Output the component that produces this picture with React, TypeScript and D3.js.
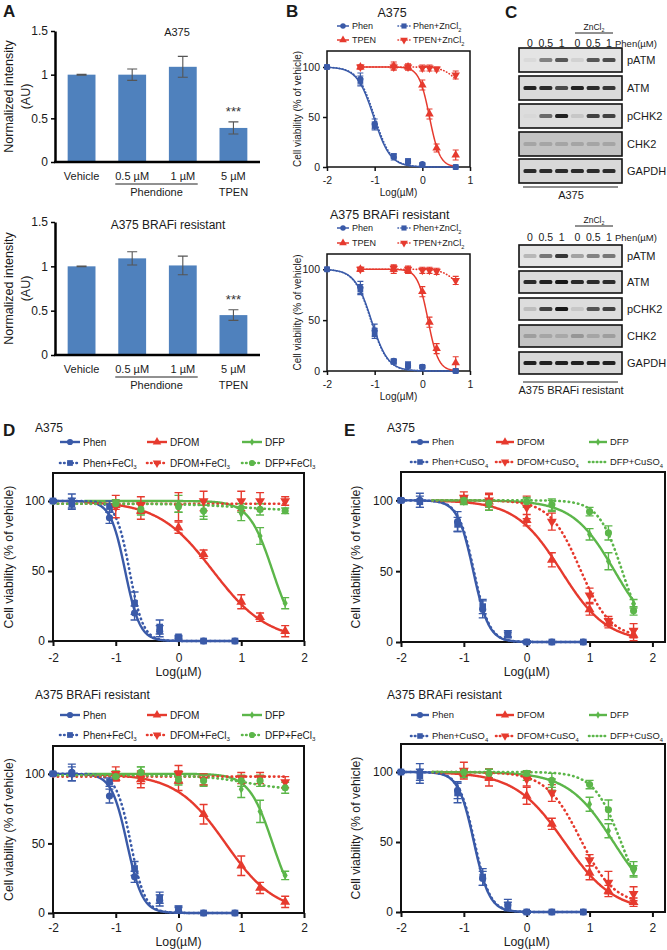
import { useEffect, useRef } from 'react'
import * as d3 from 'd3'

type Sel = d3.Selection<any, unknown, null, undefined>

const FONT = "'Liberation Sans', Arial, sans-serif"
const INK = '#1a1a1a'
const BLUE = '#3a5aa8'
const RED = '#e63a2e'
const GREEN = '#5cb64a'
const BAR = '#4f81bd'

// ---------- Panel A: normalized intensity ----------
const barGroups = ['Vehicle', '0.5 µM', '1 µM', '5 µM']
const barTicks = [0, 0.5, 1, 1.5]
const barA375 = [1.0, 1.0, 1.09, 0.39]
const barA375Err = [0.005, 0.065, 0.12, 0.07]
const barRes = [1.0, 1.09, 1.01, 0.45]
const barResErr = [0.004, 0.075, 0.105, 0.06]

// ---------- Panel B: Phen / TPEN +/- ZnCl2 (log µM) ----------
const bNames = ['Phen', 'Phen+ZnCl_2', 'TPEN', 'TPEN+ZnCl_2']
const bPhenX = [-2, -1.3, -1, -0.6, -0.3, 0, 0.7]
const bTpenX = [-1.3, -0.6, -0.3, 0, 0.15, 0.3, 0.7]
const bTopY = [
  [100, 88, 43, 10, 5, 3, 0],
  [100, 86, 41, 11, 6, 2, 0],
  [100, 101, 100, 82, 53, 19, 12],
  [100, 100, 100, 99, 99, 98, 92],
]
const bTopErr = [
  [1, 6, 5, 3, 2, 1, 0],
  [1, 5, 4, 2, 2, 1, 0],
  [2, 4, 3, 5, 5, 4, 5],
  [2, 3, 3, 3, 3, 2, 4],
]
const bTopFit = [
  [100, 0, -1.02, 2.5],
  [100, 0, -1.0, 2.5],
  [100, 0, 0.15, 4],
  [100, 76, 0.7, 3],
]
const bResY = [
  [100, 82, 40, 10, 5, 4, 0],
  [100, 80, 37, 9, 6, 4, 0],
  [100, 100, 99, 78, 48, 22, 8],
  [100, 101, 100, 99, 99, 98, 89],
]
const bResErr = [
  [1, 6, 6, 2, 2, 1, 1],
  [1, 5, 5, 2, 3, 1, 1],
  [2, 4, 3, 5, 5, 5, 6],
  [2, 3, 3, 3, 3, 3, 4],
]
const bResFit = [
  [100, 0, -1.07, 2.5],
  [100, 0, -1.08, 2.5],
  [100, 0, 0.12, 4],
  [100, 76, 0.7, 3],
]

// ---------- Panel C: western blots (band intensity 0..1) ----------
const laneLabels = ['0', '0.5', '1', '0', '0.5', '1']
const blotRows = ['pATM', 'ATM', 'pCHK2', 'CHK2', 'GAPDH']
const blotA375 = [
  [0.04, 0.45, 0.65, 0.08, 0.65, 0.7],
  [0.9, 0.85, 0.7, 0.9, 0.85, 0.8],
  [0.02, 0.55, 0.9, 0.1, 0.75, 0.75],
  [0.16, 0.16, 0.16, 0.16, 0.16, 0.16],
  [0.85, 0.85, 0.85, 0.85, 0.85, 0.85],
]
const blotRes = [
  [0.2, 0.5, 0.8, 0.3, 0.45, 0.5],
  [0.85, 0.9, 0.95, 0.85, 0.85, 0.85],
  [0.15, 0.75, 0.95, 0.1, 0.65, 0.75],
  [0.2, 0.16, 0.14, 0.24, 0.16, 0.2],
  [0.9, 0.9, 0.9, 0.9, 0.9, 0.9],
]

// ---------- Panels D / E: chelators +/- metal (log µM) ----------
const phenX = [-2, -1.7, -1.1, -0.7, -0.3, 0, 0.4, 0.9]
const chelX = [-1, -0.6, 0, 0.4, 1, 1.3, 1.7]
const dNames = ['Phen', 'DFOM', 'DFP', 'Phen+FeCl_3', 'DFOM+FeCl_3', 'DFP+FeCl_3']
const eNames = ['Phen', 'DFOM', 'DFP', 'Phen+CuSO_4', 'DFOM+CuSO_4', 'DFP+CuSO_4']

const dTopY = [
  [100, 100, 88, 20, 7, 2, 0, 0],
  [97, 93, 81, 62, 28, 17, 7],
  [99, 96, 98, 92, 91, 75, 27],
  [100, 98, 96, 27, 10, 3, 0, 0],
  [96, 97, 96, 100, 100, 100, 100],
  [98, 94, 96, 93, 95, 94, 93],
]
const dTopErr = [
  [1, 5, 4, 5, 4, 1, 0, 0],
  [3, 6, 4, 3, 5, 3, 4],
  [2, 4, 6, 5, 5, 6, 4],
  [1, 4, 4, 8, 5, 1, 0, 0],
  [8, 6, 10, 7, 7, 6, 3],
  [2, 4, 4, 4, 3, 4, 2],
]
const dTopFit = [
  [100, 0, -0.85, 3.7],
  [100, 0, 0.55, 1.0],
  [100, 0, 1.5, 2.3],
  [100, 0, -0.78, 4],
  [98, 98, 0, 1],
  [98, 93, 1, 1],
]
const dResY = [
  [100, 101, 84, 26, 9, 2, 0, 0],
  [97, 96, 95, 71, 34, 18, 8],
  [100, 101, 97, 96, 89, 73, 27],
  [100, 100, 94, 32, 11, 3, 0, 0],
  [100, 97, 100, 96, 97, 97, 94],
  [98, 101, 96, 95, 95, 95, 90],
]
const dResErr = [
  [1, 6, 5, 4, 4, 2, 0, 0],
  [2, 6, 7, 7, 7, 4, 4],
  [2, 4, 4, 4, 6, 8, 3],
  [1, 5, 3, 5, 4, 2, 0, 0],
  [5, 4, 6, 4, 4, 4, 4],
  [2, 4, 4, 4, 4, 4, 4],
]
const dResFit = [
  [100, 0, -0.82, 3.5],
  [100, 0, 0.75, 1.1],
  [100, 0, 1.5, 2.3],
  [100, 0, -0.76, 3.8],
  [98, 98, 0, 1],
  [99, 88, 1.1, 1.2],
]
const eTopY = [
  [100, 100, 85, 23, 6, 0, 0, 0],
  [101, 99, 86, 58, 23, 13, 5],
  [99, 97, 98, 96, 76, 57, 27],
  [100, 99, 83, 25, 5, 0, 0, 0],
  [102, 100, 95, 85, 33, 15, 8],
  [100, 98, 99, 97, 92, 77, 22],
]
const eTopErr = [
  [1, 5, 7, 6, 2, 1, 0, 0],
  [2, 6, 4, 5, 4, 3, 4],
  [2, 4, 3, 4, 4, 6, 3],
  [1, 4, 5, 5, 2, 1, 0, 0],
  [4, 4, 8, 6, 5, 3, 5],
  [2, 3, 3, 4, 3, 5, 3],
]
const eTopFit = [
  [100, 0, -0.85, 3.5],
  [100, 0, 0.55, 1.2],
  [100, 0, 1.4, 1.3],
  [100, 0, -0.84, 3.5],
  [100, 3, 0.85, 1.8],
  [100, 0, 1.52, 2.3],
]
const eResY = [
  [100, 100, 87, 24, 5, 0, 0, 0],
  [99, 96, 83, 63, 28, 15, 7],
  [98, 99, 97, 91, 77, 58, 29],
  [100, 97, 85, 25, 4, 0, 0, 0],
  [101, 98, 95, 85, 37, 21, 13],
  [100, 99, 99, 94, 91, 73, 31],
]
const eResErr = [
  [1, 6, 6, 5, 4, 1, 0, 0],
  [2, 6, 6, 4, 5, 4, 3],
  [2, 3, 3, 4, 5, 5, 4],
  [1, 5, 7, 6, 3, 1, 0, 0],
  [6, 4, 5, 6, 4, 8, 5],
  [2, 3, 2, 5, 3, 7, 5],
]
const eResFit = [
  [100, 0, -0.84, 3.5],
  [100, 0, 0.6, 1.1],
  [100, 0, 1.38, 1.2],
  [100, 0, -0.83, 3.5],
  [100, 5, 0.85, 1.6],
  [100, 0, 1.5, 2.0],
]

const logistic = (f: number[], v: number) =>
  f[1] + (f[0] - f[1]) / (1 + Math.pow(10, (v - f[2]) * f[3]))

function label(p: Sel, x: number, y: number, txt: string, size: number, anchor = 'start', weight = 'normal') {
  const t = p.append('text')
    .attr('x', x).attr('y', y)
    .attr('font-size', size).attr('font-family', FONT)
    .attr('font-weight', weight).attr('text-anchor', anchor).attr('fill', INK)
  const [main, sub] = txt.split('_')
  t.append('tspan').text(main)
  if (sub) t.append('tspan').attr('font-size', size * 0.62).attr('dy', size * 0.28).text(sub)
  return t
}

const symScale: Record<string, number> = { circle: 1, square: 1.1, tri: 1.05, triDown: 1.05, diamond: 0.55, none: 0 }

function marker(p: Sel, cx: number, cy: number, kind: string, size: number, color: string) {
  if (kind === 'none') return
  const type = kind === 'circle' ? d3.symbolCircle
    : kind === 'square' ? d3.symbolSquare
    : kind === 'diamond' ? d3.symbolDiamond
    : d3.symbolTriangle
  p.append('path')
    .attr('d', d3.symbol().type(type).size(size * symScale[kind])()!)
    .attr('transform', `translate(${cx},${cy})${kind === 'triDown' ? ' rotate(180)' : ''}`)
    .attr('fill', color)
}

function drawBars(svg: Sel, c: {
  left: number; right: number; top: number; zero: number
  values: number[]; errs: number[]
  title: string; titleX: number; titleY: number; titleSize: number; labelY: number
}) {
  const y = d3.scaleLinear().domain([0, 1.5]).range([c.zero, c.top])
  const x = d3.scaleBand<string>().domain(barGroups).range([c.left, c.right]).paddingInner(0.45).paddingOuter(0.25)
  const g = svg.append('g')

  g.selectAll('rect.bar').data(c.values).join('rect')
    .attr('x', (_, i) => x(barGroups[i])!)
    .attr('y', d => y(d))
    .attr('width', x.bandwidth())
    .attr('height', d => c.zero - y(d))
    .attr('fill', BAR)

  c.values.forEach((v, i) => {
    const cx = x(barGroups[i])! + x.bandwidth() / 2
    const e = c.errs[i]
    g.append('path')
      .attr('d', `M${cx - 5},${y(v + e)}H${cx + 5}M${cx},${y(v + e)}V${y(v - e)}M${cx - 5},${y(v - e)}H${cx + 5}`)
      .attr('stroke', '#555').attr('stroke-width', 1.1).attr('fill', 'none')
  })
  const last = barGroups.length - 1
  label(g, x(barGroups[last])! + x.bandwidth() / 2, y(c.values[last] + c.errs[last]) - 6, '***', 13, 'middle')
    .attr('fill', '#333')

  const ax = g.append('g').attr('transform', `translate(${c.left},0)`)
    .call(d3.axisLeft(y).tickValues(barTicks).tickSize(4).tickSizeOuter(0).tickPadding(3).tickFormat(d => String(d)))
  ax.select('.domain').attr('stroke', '#000').attr('stroke-width', 2.5)
  ax.selectAll('line').attr('stroke', '#000').attr('stroke-width', 1.5)
  ax.selectAll('text').attr('font-size', 12).attr('font-family', FONT).attr('fill', INK)
  g.append('line')
    .attr('x1', c.left - 1).attr('x2', c.right).attr('y1', c.zero).attr('y2', c.zero)
    .attr('stroke', '#000').attr('stroke-width', 2.5)

  barGroups.forEach(b => label(g, x(b)! + x.bandwidth() / 2, c.labelY, b, 11, 'middle'))
  const u0 = x(barGroups[1])! - 3
  const u1 = x(barGroups[2])! + x.bandwidth() + 1
  g.append('line').attr('x1', u0).attr('x2', u1).attr('y1', c.labelY + 4).attr('y2', c.labelY + 4)
    .attr('stroke', '#222').attr('stroke-width', 1)
  label(g, (u0 + u1) / 2, c.labelY + 16, 'Phendione', 11, 'middle')
  label(g, x(barGroups[last])! + x.bandwidth() / 2, c.labelY + 16, 'TPEN', 11, 'middle')

  label(g, c.titleX, c.titleY, c.title, c.titleSize, 'middle')
  const yc = (c.top + c.zero) / 2
  label(g, 0, 0, 'Normalized  intensity', 12.5, 'middle').attr('transform', `translate(12.5,${yc}) rotate(-90)`)
  label(g, 0, 0, '(AU)', 12.5, 'middle').attr('transform', `translate(29.5,${yc}) rotate(-90)`)
}

type CurveCfg = {
  left: number; right: number; top: number; bottom: number
  xDomain: number[]; yMax: number; xTicks: number[]; yTicks: number[]
  xs: number[][]; ys: number[][]; errs: number[][]; fits: number[][]; spans: number[][]
  colors: string[]; dotted: boolean[]; symbols: string[]
  tickFont: number; labelFont: number; boxW: number; lineW: number; dotW: number; dash: string
  symSize: number; capW: number; errW: number
  yLabelX: number; xTickY: number; xLabelY: number; tick: number
}

function drawCurves(svg: Sel, c: CurveCfg) {
  const x = d3.scaleLinear().domain(c.xDomain).range([c.left, c.right])
  const y = d3.scaleLinear().domain([0, c.yMax]).range([c.bottom, c.top])
  const g = svg.append('g')

  const yAx = g.append('g').attr('transform', `translate(${c.left},0)`)
    .call(d3.axisLeft(y).tickValues(c.yTicks).tickSize(c.tick).tickSizeOuter(0).tickPadding(3).tickFormat(d => String(d)))
  const xAx = g.append('g').attr('transform', `translate(0,${c.bottom})`)
    .call(d3.axisBottom(x).tickValues(c.xTicks).tickSize(c.tick).tickSizeOuter(0)
      .tickPadding(c.xTickY - c.bottom - c.tick - 0.71 * c.tickFont).tickFormat(d => String(d)))
  for (const ax of [yAx, xAx]) {
    ax.select('.domain').remove()
    ax.selectAll('line').attr('stroke', '#111').attr('stroke-width', c.boxW)
    ax.selectAll('text').attr('font-size', c.tickFont).attr('font-family', FONT).attr('fill', INK)
  }
  g.append('rect')
    .attr('x', c.left).attr('y', c.top).attr('width', c.right - c.left).attr('height', c.bottom - c.top)
    .attr('fill', 'none').attr('stroke', '#111').attr('stroke-width', c.boxW)

  const line = d3.line<number[]>().x(d => x(d[0])).y(d => y(d[1]))
  c.fits.forEach((f, i) => {
    const [s0, s1] = c.spans[i]
    const grid = d3.range(s0, s1, 0.01).concat([s1])
    g.append('path')
      .attr('d', line(grid.map(v => [v, logistic(f, v)])))
      .attr('fill', 'none').attr('stroke', c.colors[i])
      .attr('stroke-width', c.dotted[i] ? c.dotW : c.lineW)
      .attr('stroke-dasharray', c.dotted[i] ? c.dash : null)
      .attr('stroke-linecap', c.dotted[i] ? 'round' : 'butt')
  })

  c.ys.forEach((vals, i) => {
    vals.forEach((v, j) => {
      const e = c.errs[i][j]
      if (e <= 0.5) return
      const cx = x(c.xs[i][j])
      const h = c.capW / 2
      g.append('path')
        .attr('d', `M${cx - h},${y(v + e)}H${cx + h}M${cx},${y(v + e)}V${y(v - e)}M${cx - h},${y(v - e)}H${cx + h}`)
        .attr('stroke', c.colors[i]).attr('stroke-width', c.errW).attr('fill', 'none')
    })
  })
  c.ys.forEach((vals, i) => {
    vals.forEach((v, j) => marker(g, x(c.xs[i][j]), y(v), c.symbols[i], c.symSize, c.colors[i]))
  })

  const yc = (c.top + c.bottom) / 2
  label(g, 0, 0, 'Cell viability (% of vehicle)', c.labelFont, 'middle')
    .attr('transform', `translate(${c.yLabelX},${yc}) rotate(-90)`)
  label(g, (c.left + Math.min(c.right, x(2))) / 2, c.xLabelY, 'Log(µM)', c.labelFont, 'middle')
}

function drawLegend(svg: Sel, names: string[], colors: string[], dotted: boolean[], symbols: string[],
  cols: number[], rows: number[], len: number, font: number, symSize: number, lw: number, dw: number, dash: string) {
  const g = svg.append('g')
  const nc = cols.length
  names.forEach((n, i) => {
    const x0 = cols[i % nc]
    const yy = rows[Math.floor(i / nc)]
    g.append('line').attr('x1', x0).attr('x2', x0 + len).attr('y1', yy).attr('y2', yy)
      .attr('stroke', colors[i]).attr('stroke-width', dotted[i] ? dw : lw)
      .attr('stroke-dasharray', dotted[i] ? dash : null)
      .attr('stroke-linecap', dotted[i] ? 'round' : 'butt')
    marker(g, x0 + len / 2, yy, symbols[i], symSize, colors[i])
    label(g, x0 + len + 3, yy + font * 0.36, n, font)
  })
}

function drawBlot(svg: Sel, c: {
  tops: number[]; h: number; data: number[][]; znY: number; headerY: number
  capLineY: number; captionY: number; caption: string
}) {
  const left = 519
  const right = 622
  const lane = d3.scalePoint<number>().domain(d3.range(laneLabels.length)).range([530, 609])
  const rowFill = ['#e4e4e4', '#dadada', '#dddddd', '#c3c3c3', '#d8d8d8']
  const g = svg.append('g')

  label(g, 594, c.znY, 'ZnCl_2', 8.5, 'middle')
  g.append('line').attr('x1', 575).attr('x2', 613).attr('y1', c.znY + 3).attr('y2', c.znY + 3)
    .attr('stroke', '#222').attr('stroke-width', 1)
  laneLabels.forEach((l, i) => label(g, lane(i)!, c.headerY, l, 10.5, 'middle'))
  label(g, 615, c.headerY, 'Phen(µM)', 9.5)

  c.data.forEach((row, r) => {
    const t = c.tops[r]
    g.append('rect').attr('x', left).attr('y', t).attr('width', right - left).attr('height', c.h)
      .attr('fill', rowFill[r]).attr('stroke', '#111').attr('stroke-width', 1.6)
    row.forEach((v, i) => {
      g.append('rect')
        .attr('x', lane(i)! - 6.5).attr('y', t + c.h / 2 - 2).attr('width', 13).attr('height', 4)
        .attr('rx', 1.5).attr('fill', '#111').attr('opacity', v).attr('filter', 'url(#soft)')
    })
    label(g, 627, t + c.h / 2 + 4, blotRows[r], 11)
  })

  g.append('line').attr('x1', 523).attr('x2', 618).attr('y1', c.capLineY).attr('y2', c.capLineY)
    .attr('stroke', '#222').attr('stroke-width', 1)
  label(g, 571, c.captionY, c.caption, 11, 'middle')
}

function draw(svg: Sel) {
  svg.append('rect').attr('width', 667).attr('height', 950).attr('fill', '#fff')
  svg.append('defs').append('filter').attr('id', 'soft')
    .append('feGaussianBlur').attr('stdDeviation', 0.6)

  // panel letters
  label(svg, 3, 17, 'A', 17, 'start', 'bold')
  label(svg, 286, 17, 'B', 17, 'start', 'bold')
  label(svg, 505, 18, 'C', 17, 'start', 'bold')
  label(svg, 3, 436, 'D', 17, 'start', 'bold')
  label(svg, 344, 436, 'E', 17, 'start', 'bold')

  // A
  drawBars(svg, { left: 55, right: 260, top: 31, zero: 162, values: barA375, errs: barA375Err,
    title: 'A375', titleX: 177, titleY: 36, titleSize: 11, labelY: 180 })
  drawBars(svg, { left: 55, right: 260, top: 222, zero: 355, values: barRes, errs: barResErr,
    title: 'A375 BRAFi resistant', titleX: 168, titleY: 229, titleSize: 12, labelY: 373 })

  // B
  const bColors = [BLUE, BLUE, RED, RED]
  const bDotted = [false, true, false, true]
  const bSymbols = ['circle', 'square', 'tri', 'triDown']
  const bXs = [bPhenX, bPhenX, bTpenX, bTpenX]
  const bSpans = [[-2, 0.7], [-2, 0.7], [-1.3, 0.7], [-1.3, 0.7]]
  const bBase = {
    left: 327, right: 470, xDomain: [-2, 1], xTicks: [-2, -1, 0, 1], yTicks: [0, 50, 100],
    xs: bXs, spans: bSpans, colors: bColors, dotted: bDotted, symbols: bSymbols,
    tickFont: 10.5, labelFont: 10, boxW: 1.5, lineW: 1.5, dotW: 1.6, dash: '0.5 2.6',
    symSize: 30, capW: 6, errW: 1.2, yLabelX: 301, tick: 4,
  }
  label(svg, 392, 17, 'A375', 12.5, 'middle')
  drawLegend(svg, bNames, bColors, bDotted, bSymbols, [337, 398], [26, 40], 12, 9, 24, 1.5, 1.6, '0.5 2.4')
  drawCurves(svg, { ...bBase, top: 51, bottom: 167, yMax: 116, ys: bTopY, errs: bTopErr, fits: bTopFit,
    xTickY: 184, xLabelY: 196 })
  label(svg, 330, 219, 'A375 BRAFi resistant', 12.5)
  drawLegend(svg, bNames, bColors, bDotted, bSymbols, [337, 398], [228, 243], 12, 9, 24, 1.5, 1.6, '0.5 2.4')
  drawCurves(svg, { ...bBase, top: 254, bottom: 371, yMax: 115, ys: bResY, errs: bResErr, fits: bResFit,
    xTickY: 388, xLabelY: 400 })

  // C
  drawBlot(svg, { tops: [48, 76, 104, 132, 159], h: 24, data: blotA375, znY: 30, headerY: 47,
    capLineY: 187, captionY: 199, caption: 'A375' })
  drawBlot(svg, { tops: [245, 271, 298, 325, 352], h: 22, data: blotRes, znY: 223, headerY: 241,
    capLineY: 382, captionY: 394, caption: 'A375 BRAFi resistant' })

  // D & E
  const deColors = [BLUE, RED, GREEN, BLUE, RED, GREEN]
  const deDotted = [false, false, false, true, true, true]
  const deSymbols = ['circle', 'tri', 'diamond', 'square', 'triDown', 'circle']
  const deXs = [phenX, chelX, chelX, phenX, chelX, chelX]
  const dSpans = [[-2, 0.9], [-1.5, 1.7], [-1.5, 1.7], [-2, 0.9], [-2, 1.7], [-2, 1.7]]
  const eSpans = [[-2, 0.9], [-1.5, 1.7], [-1.5, 1.7], [-2, 0.9], [-1.5, 1.7], [-1.5, 1.7]]
  const deBase = {
    yMax: 120, xTicks: [-2, -1, 0, 1, 2], yTicks: [0, 50, 100],
    xs: deXs, colors: deColors, dotted: deDotted, symbols: deSymbols,
    tickFont: 12, labelFont: 12.3, boxW: 2, lineW: 2.4, dotW: 2.6, dash: '0.5 4.2',
    symSize: 40, capW: 8, errW: 1.4, tick: 5,
  }
  const dx = { left: 53, right: 304, xDomain: [-2, 2], spans: dSpans, yLabelX: 12.5 }
  const ex = { left: 401, right: 665, xDomain: [-2, 2.2], spans: eSpans, yLabelX: 360 }

  label(svg, 35, 432, 'A375', 12)
  drawLegend(svg, dNames, deColors, deDotted, deSymbols, [60, 147, 242], [442, 463], 20, 10, 30, 2.4, 2.6, '0.5 3.6')
  drawCurves(svg, { ...deBase, ...dx, top: 473, bottom: 641, ys: dTopY, errs: dTopErr, fits: dTopFit,
    xTickY: 662, xLabelY: 676 })
  label(svg, 35, 699, 'A375 BRAFi resistant', 12)
  drawLegend(svg, dNames, deColors, deDotted, deSymbols, [60, 147, 242], [715, 735], 20, 10, 30, 2.4, 2.6, '0.5 3.6')
  drawCurves(svg, { ...deBase, ...dx, top: 746, bottom: 913, ys: dResY, errs: dResErr, fits: dResFit,
    xTickY: 932, xLabelY: 946 })

  const eLegendSymbols = ['circle', 'tri', 'diamond', 'square', 'triDown', 'none']
  label(svg, 387, 432, 'A375', 12)
  drawLegend(svg, eNames, deColors, deDotted, eLegendSymbols, [411, 496, 589], [442, 462], 18, 9.4, 28, 2.4, 2.6, '0.5 3.4')
  drawCurves(svg, { ...deBase, ...ex, top: 472, bottom: 642, ys: eTopY, errs: eTopErr, fits: eTopFit,
    xTickY: 662, xLabelY: 676 })
  label(svg, 387, 699, 'A375 BRAFi resistant', 12)
  drawLegend(svg, eNames, deColors, deDotted, eLegendSymbols, [411, 496, 589], [715, 736], 18, 9.4, 28, 2.4, 2.6, '0.5 3.4')
  drawCurves(svg, { ...deBase, ...ex, top: 744, bottom: 912, ys: eResY, errs: eResErr, fits: eResFit,
    xTickY: 932, xLabelY: 946 })
}

export default function App() {
  const svgRef = useRef<SVGSVGElement>(null)
  useEffect(() => {
    if (!svgRef.current) return
    const svg = d3.select(svgRef.current) as unknown as Sel
    svg.selectAll('*').remove()
    draw(svg)
  }, [])
  return (
    <div style={{ position: 'absolute', left: 0, top: 0, background: '#fff' }}>
      <svg ref={svgRef} width={667} height={950} style={{ display: 'block' }} />
    </div>
  )
}
